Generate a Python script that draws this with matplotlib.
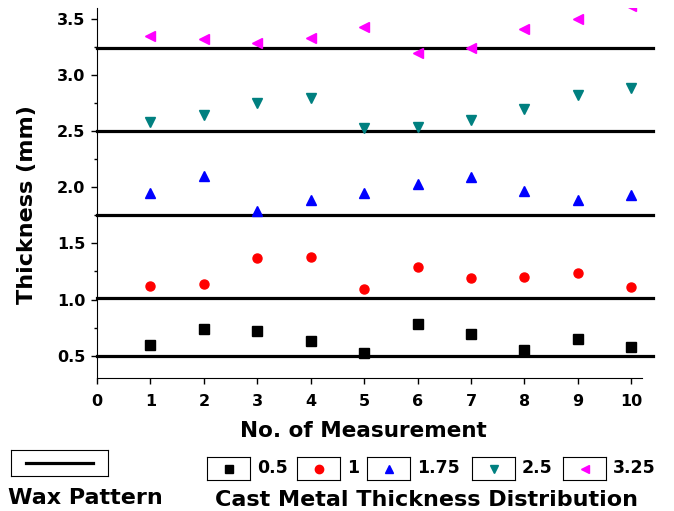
import matplotlib
matplotlib.use("Agg")
import matplotlib.pyplot as plt

# 字体设置
plt.rcParams['font.family'] = ['DejaVu Sans']
plt.rcParams['font.weight'] = 'bold'

# 数据
measurements = [1, 2, 3, 4, 5, 6, 7, 8, 9, 10]
wax_levels = [0.5, 1.01, 1.75, 2.5, 3.24]
series_labels = ["0.5", "1", "1.75", "2.5", "3.25"]
cast_05 = [0.59, 0.74, 0.72, 0.63, 0.52, 0.78, 0.69, 0.55, 0.65, 0.58]
cast_1 = [1.12, 1.14, 1.37, 1.38, 1.09, 1.29, 1.19, 1.20, 1.24, 1.11]
cast_175 = [1.95, 2.10, 1.79, 1.89, 1.95, 2.03, 2.09, 1.97, 1.89, 1.93]
cast_25 = [2.58, 2.65, 2.75, 2.80, 2.53, 2.54, 2.60, 2.70, 2.82, 2.89]
cast_325 = [3.35, 3.32, 3.29, 3.33, 3.43, 3.20, 3.24, 3.41, 3.50, 3.62]

series = [cast_05, cast_1, cast_175, cast_25, cast_325]
markers = ["s", "o", "^", "v", "<"]
colors = ["black", "red", "blue", "#008080", "magenta"]

W, H = 674, 511
fig = plt.figure(figsize=(W / 100, H / 100), dpi=100)
ax = fig.add_axes([97 / W, 1 - 378 / H, (642 - 97) / W, (378 - 8) / H])

# 蜡模厚度线
for level in wax_levels:
    ax.plot([0, 10.4], [level, level], color="black", lw=2.3, clip_on=False, zorder=2)

# 铸件厚度散点
for vals, m, c in zip(series, markers, colors):
    ax.plot(measurements, vals, linestyle="none", marker=m, color=c, ms=6.5, zorder=3)

ax.set_xlim(0, 10.2)
ax.set_ylim(0.3, 3.6)
ax.set_xticks(range(0, 11))
ax.set_yticks([0.5, 1.0, 1.5, 2.0, 2.5, 3.0, 3.5])
ax.set_yticks([0.75, 1.25, 1.75, 2.25, 2.75, 3.25], minor=True)
ax.tick_params(axis="both", which="major", direction="out", length=4.5, width=1,
               labelsize=11.5)
ax.tick_params(axis="y", which="major", pad=4)
ax.tick_params(axis="x", which="major", pad=7)
ax.tick_params(axis="y", which="minor", direction="out", length=2.5, width=1)
for lbl in ax.get_xticklabels() + ax.get_yticklabels():
    lbl.set_fontweight("bold")
ax.spines["top"].set_visible(False)
ax.spines["right"].set_visible(False)
ax.set_xlabel("No. of Measurement", fontsize=15.5, fontweight="bold")
ax.set_ylabel("Thickness (mm)", fontsize=16, fontweight="bold")
ax.xaxis.set_label_coords(0.488, -0.115)
ax.yaxis.set_label_coords(-0.11, 0.47)

# 蜡模图例
wax_ax = fig.add_axes([11 / W, 1 - 476 / H, 97 / W, 26 / H])
wax_ax.plot([0.15, 0.85], [0.5, 0.5], color="black", lw=2.3)
wax_ax.set_xlim(0, 1)
wax_ax.set_ylim(0, 1)
wax_ax.set_xticks([])
wax_ax.set_yticks([])
fig.text(85 / W, 1 - 498 / H, "Wax Pattern", ha="center", va="center",
         fontsize=16, fontweight="bold")

# 铸件图例
box_left = [207, 297, 367, 472, 563]
for x0, lab, m, c in zip(box_left, series_labels, markers, colors):
    lax = fig.add_axes([x0 / W, 1 - 480 / H, 43 / W, 23 / H])
    lax.plot([0.5], [0.5], linestyle="none", marker=m, color=c, ms=6)
    lax.set_xlim(0, 1)
    lax.set_ylim(0, 1)
    lax.set_xticks([])
    lax.set_yticks([])
    fig.text((x0 + 50) / W, 1 - 468 / H, lab, ha="left", va="center",
             fontsize=12.5, fontweight="bold")
fig.text(427 / W, 1 - 500 / H, "Cast Metal Thickness Distribution", ha="center",
         va="center", fontsize=16, fontweight="bold")

fig.savefig("out.png", dpi=100)
